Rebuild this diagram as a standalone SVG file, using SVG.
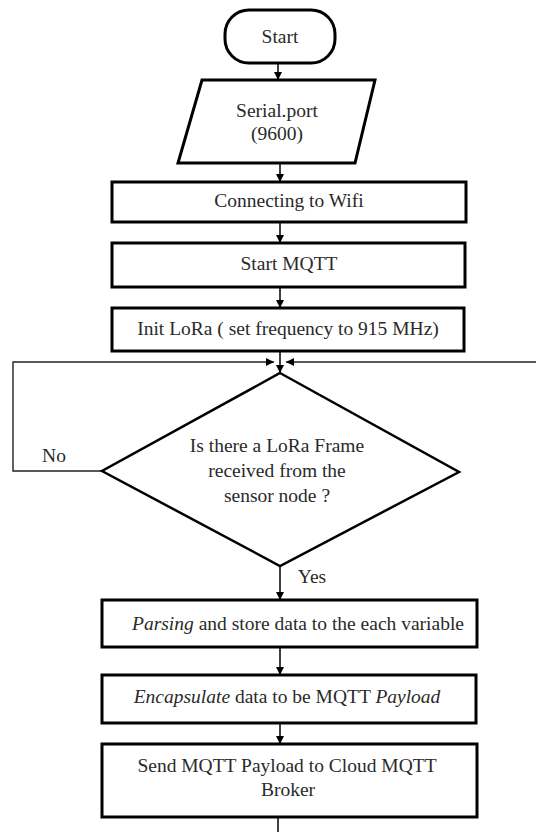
<svg xmlns="http://www.w3.org/2000/svg" width="536" height="832" viewBox="0 0 536 832">
<style>
.box{fill:#fff;stroke:#000;stroke-width:3}
.dia{fill:#fff;stroke:#000;stroke-width:2.5}
.conn{fill:none;stroke:#000;stroke-width:1.5}
.loop{fill:none;stroke:#222;stroke-width:1.4}
.t{font-family:'Liberation Serif','DejaVu Serif',serif;font-size:19.5px;fill:#2a2a2a;text-anchor:middle}
.it{font-style:italic}
</style>
<defs>
<marker id="ah" viewBox="0 0 10 10" refX="10" refY="5" markerWidth="8" markerHeight="8" markerUnits="userSpaceOnUse" orient="auto">
<path d="M0,0 L10,5 L0,10 z" fill="#000"/>
</marker>
</defs>
<rect width="536" height="832" fill="#fff"/>
<g id="connectors">
<line class="conn" x1="278" y1="63" x2="278" y2="80" marker-end="url(#ah)"/>
<line class="conn" x1="280" y1="163" x2="280" y2="182" marker-end="url(#ah)"/>
<line class="conn" x1="280" y1="222" x2="280" y2="243" marker-end="url(#ah)"/>
<line class="conn" x1="280" y1="287" x2="280" y2="308" marker-end="url(#ah)"/>
<line class="conn" x1="280" y1="351" x2="280" y2="373" marker-end="url(#ah)"/>
<polyline class="loop" points="102,471 13,471 13,362 274,362" marker-end="url(#ah)"/>
<line class="loop" x1="536" y1="362" x2="286" y2="362" marker-end="url(#ah)"/>
<line class="conn" x1="280" y1="566" x2="280" y2="600" marker-end="url(#ah)"/>
<line class="conn" x1="280" y1="647" x2="280" y2="675" marker-end="url(#ah)"/>
<line class="conn" x1="280" y1="723" x2="280" y2="744" marker-end="url(#ah)"/>
<line class="conn" x1="278" y1="817" x2="278" y2="832"/>
<text class="t" x="54" y="462">No</text>
<text class="t" x="312" y="583">Yes</text>
</g>
<g id="start">
<rect class="box" x="225" y="10" width="110" height="53" rx="24" ry="24"/>
<text class="t" x="280" y="43">Start</text>
</g>
<g id="serial">
<polygon class="box" points="202,80 375,80 355,163 178,163"/>
<text class="t" x="277" y="117">Serial.port</text>
<text class="t" x="277" y="140">(9600)</text>
</g>
<g id="wifi">
<rect class="box" x="112" y="182" width="354" height="40"/>
<text class="t" x="289" y="207">Connecting to Wifi</text>
</g>
<g id="mqtt">
<rect class="box" x="112" y="243" width="353" height="44"/>
<text class="t" x="289" y="270">Start MQTT</text>
</g>
<g id="lora">
<rect class="box" x="112" y="308" width="352" height="43"/>
<text class="t" x="288" y="335">Init LoRa ( set frequency to 915 MHz)</text>
</g>
<g id="decision">
<polygon class="dia" points="280,373 459,472 280,566 102,471"/>
<text class="t" x="277" y="452">Is there a LoRa Frame</text>
<text class="t" x="277" y="477">received from the</text>
<text class="t" x="277" y="502">sensor node ?</text>
</g>
<g id="parsing">
<rect class="box" x="102" y="600" width="375" height="47"/>
<text class="t" x="298" y="630"><tspan class="it">Parsing</tspan> and store data to the each variable</text>
</g>
<g id="encap">
<rect class="box" x="102" y="675" width="374" height="48"/>
<text class="t" x="287" y="703"><tspan class="it">Encapsulate</tspan> data to be MQTT <tspan class="it">Payload</tspan></text>
</g>
<g id="send">
<rect class="box" x="102" y="744" width="375" height="73"/>
<text class="t" x="287" y="772">Send MQTT Payload to Cloud MQTT</text>
<text class="t" x="288" y="796">Broker</text>
</g>
</svg>
